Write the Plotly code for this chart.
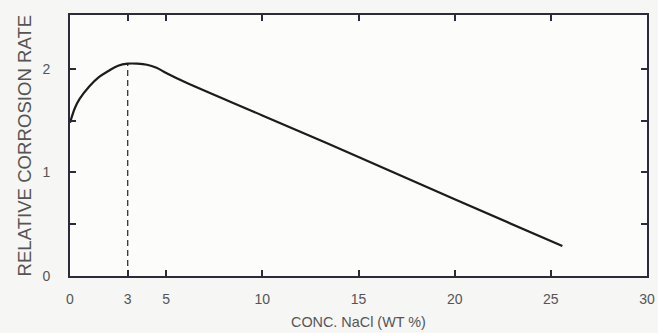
import plotly.graph_objects as go

conc = [0, 0.25, 0.5, 1, 1.5, 2, 2.5, 3, 3.5, 4, 4.5, 5, 6, 10, 15, 20, 25.6]
rate = [1.48, 1.62, 1.71, 1.83, 1.92, 1.98, 2.03, 2.05, 2.05, 2.04, 2.01, 1.96, 1.87, 1.55, 1.15, 0.74, 0.29]
peak_x = 3
peak_y = 2.05
x_ticks = [0, 3, 5, 10, 15, 20, 25, 30]
y_ticks = [0, 0.5, 1, 1.5, 2]
y_labels = ["0", "", "1", "", "2"]
x_title = "CONC. NaCl (WT %)"
y_title = "RELATIVE CORROSION RATE"

axis_color = "#2b2b3a"
fam = "Liberation Sans, Arial, sans-serif"
txt_color = "#555555"

fig = go.Figure()
fig.add_trace(go.Scatter(x=[peak_x, peak_x], y=[0, peak_y], mode="lines",
                         line=dict(color="#333333", width=1.3, dash="6px,4px"),
                         hoverinfo="skip"))
fig.add_trace(go.Scatter(x=conc, y=rate, mode="lines", line_shape="spline",
                         line=dict(color="#1c1c1c", width=2.2)))

fig.update_layout(
    width=658, height=333,
    margin=dict(l=70, r=11, t=15, b=57, autoexpand=False),
    paper_bgcolor="#f6f6f4", plot_bgcolor="#fcfcfb",
    showlegend=False, font=dict(family=fam, size=14, color=txt_color),
)
fig.update_xaxes(range=[0, 30], tickvals=x_ticks, ticktext=[str(v) for v in x_ticks],
                 ticks="inside", ticklen=6, tickcolor=axis_color, tickwidth=1.5,
                 showline=True, linecolor=axis_color, linewidth=2, mirror="ticks",
                 showgrid=False, zeroline=False, automargin=False, ticklabelstandoff=9)
fig.update_yaxes(range=[0, 2.52], tickvals=y_ticks, ticktext=y_labels,
                 ticks="inside", ticklen=6, tickcolor=axis_color, tickwidth=1.5,
                 showline=True, linecolor=axis_color, linewidth=2, mirror="ticks",
                 showgrid=False, zeroline=False, automargin=False, ticklabelstandoff=15)
fig.add_annotation(text=x_title, xref="paper", yref="paper", x=0.5, y=-0.176,
                   showarrow=False, font=dict(family=fam, size=14.4, color=txt_color),
                   xanchor="center", yanchor="middle")
fig.add_annotation(text=y_title, xref="paper", yref="paper", x=-0.078, y=0.5,
                   textangle=-90, showarrow=False, font=dict(family=fam, size=18.6, color=txt_color),
                   xanchor="center", yanchor="middle")

fig.write_html("out.html", config={"displayModeBar": False},
               post_script="document.body.style.margin='0';")
